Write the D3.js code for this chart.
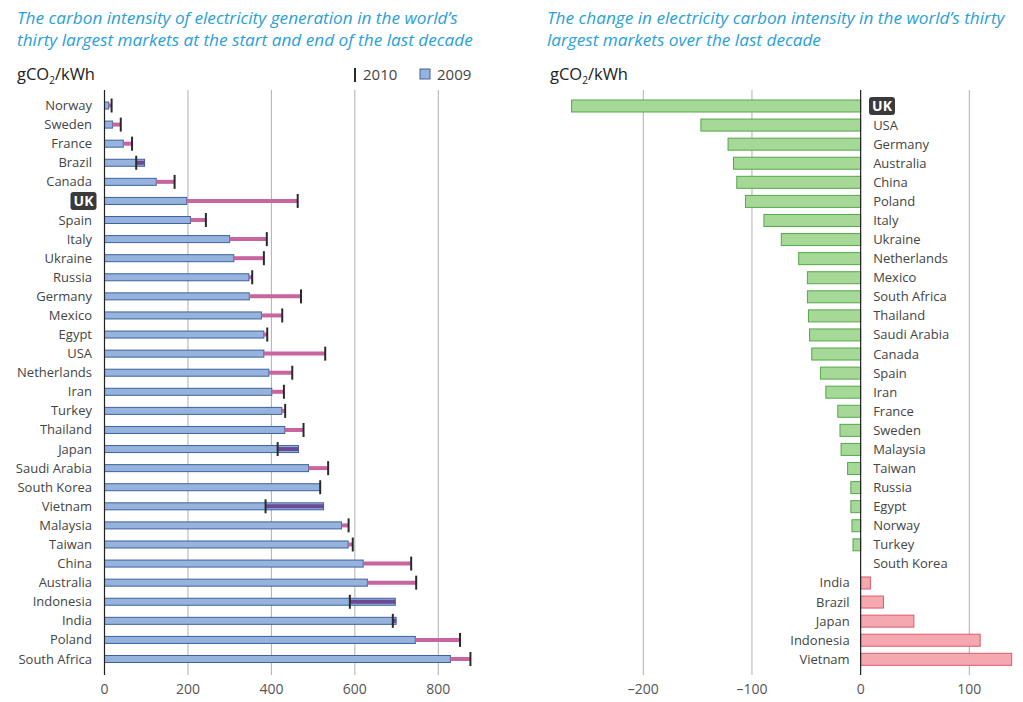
<!DOCTYPE html>
<html>
<head>
<meta charset="utf-8">
<title>Carbon intensity of electricity</title>
<script src="https://d3js.org/d3.v7.min.js"></script>
<style>
    body { margin: 0; background: #fff; font-family: "Open Sans", sans-serif; }
    .title { font-style: italic; fill: #2aa0d8; font-size: 17.2px; }
    .unit { fill: #222; font-size: 16.5px; }
    .label { fill: #444; font-size: 13px; }
    .legend-text { fill: #444; font-size: 15px; }
    .tick-label { fill: #555; font-size: 14px; }
    .grid { stroke: #b0b0b0; stroke-width: 1; }
</style>
</head>
<body>
<div id="chart"></div>
<script>
// left panel, sorted by 2009 value
const countries = ['Norway', 'Sweden', 'France', 'Brazil', 'Canada', 'UK', 'Spain', 'Italy', 'Ukraine', 'Russia',
    'Germany', 'Mexico', 'Egypt', 'USA', 'Netherlands', 'Iran', 'Turkey', 'Thailand', 'Japan', 'Saudi Arabia',
    'South Korea', 'Vietnam', 'Malaysia', 'Taiwan', 'China', 'Australia', 'Indonesia', 'India', 'Poland', 'South Africa'];
const values2009 = [10, 19, 45, 96, 124, 197, 206, 300, 310, 346, 347, 376, 382, 382, 394, 401, 425, 432, 465, 489,
    517, 525, 568, 584, 620, 630, 697, 699, 745, 829];
const values2010 = [17, 39, 66, 76, 168, 463, 243, 389, 382, 354, 471, 426, 390, 529, 450, 430, 433, 477, 415, 536,
    517, 386, 585, 595, 735, 747, 588, 691, 852, 877];
const leftTicks = [0, 200, 400, 600, 800];

// right panel, change over the decade
const changeCountries = ['UK', 'USA', 'Germany', 'Australia', 'China', 'Poland', 'Italy', 'Ukraine', 'Netherlands',
    'Mexico', 'South Africa', 'Thailand', 'Saudi Arabia', 'Canada', 'Spain', 'Iran', 'France', 'Sweden', 'Malaysia',
    'Taiwan', 'Russia', 'Egypt', 'Norway', 'Turkey', 'South Korea', 'India', 'Brazil', 'Japan', 'Indonesia', 'Vietnam'];
const changeValues = [-266, -147, -122, -117, -114, -106, -89, -73, -57, -49, -49, -48, -47, -45, -37, -32, -21, -19,
    -18, -12, -9, -9, -8, -7, 0, 9, 21, 49, 110, 139];
const rightTicks = [-200, -100, 0, 100];

const width = 1023, height = 702;
const svg = d3.select('#chart').append('svg')
    .attr('width', width)
    .attr('height', height);

// titles
function title(x, lines) {
    const t = svg.append('text').attr('class', 'title').attr('x', x).attr('y', 24);
    lines.forEach((l, i) => t.append('tspan').attr('x', x).attr('dy', i ? 22 : 0).text(l));
}
title(17, ["The carbon intensity of electricity generation in the world\u2019s",
    "thirty largest markets at the start and end of the last decade"]);
title(547, ["The change in electricity carbon intensity in the world\u2019s thirty",
    "largest markets over the last decade"]);

function unit(x) {
    const t = svg.append('text').attr('class', 'unit').attr('x', x).attr('y', 80);
    t.append('tspan').text('gCO');
    t.append('tspan').attr('font-size', 10).attr('dy', 4).text('2');
    t.append('tspan').attr('dy', -4).text('/kWh');
}
unit(17);
unit(550);

function ukBadge(g, x, y, anchor) {
    const w = 26, h = 18;
    const x0 = anchor === 'end' ? x - w : x;
    g.append('rect').attr('x', x0).attr('y', y - h / 2).attr('width', w).attr('height', h)
        .attr('rx', 3).attr('fill', '#3a3a3a');
    g.append('text').attr('x', x0 + w / 2).attr('y', y + 5).attr('text-anchor', 'middle')
        .attr('fill', '#fff').attr('font-size', 14).attr('font-weight', 'bold').text('UK');
}

// ---------- left panel ----------
const xL = d3.scaleLinear().domain([0, 800]).range([104.5, 438.3]);
const yL = d3.scalePoint().domain(countries).range([105.5, 659]);
const gL = svg.append('g');

gL.selectAll('.grid').data(leftTicks.slice(1)).join('line')
    .attr('class', 'grid')
    .attr('x1', d => xL(d)).attr('x2', d => xL(d))
    .attr('y1', 90).attr('y2', 675);

gL.selectAll('.tick-label').data(leftTicks).join('text')
    .attr('class', 'tick-label')
    .attr('x', d => xL(d)).attr('y', 694)
    .attr('text-anchor', 'middle')
    .text(d => d);

const rows = countries.map((c, i) => ({ c, a: values2009[i], b: values2010[i] }));

gL.selectAll('.bar').data(rows).join('rect')
    .attr('x', xL(0))
    .attr('y', d => yL(d.c) - 3.5)
    .attr('width', d => xL(d.a) - xL(0))
    .attr('height', 7)
    .attr('fill', '#95b3dc')
    .attr('stroke', '#3d62a0')
    .attr('stroke-width', 1);

gL.selectAll('.seg').data(rows.filter(d => d.a !== d.b)).join('line')
    .attr('x1', d => xL(d.a)).attr('x2', d => xL(d.b))
    .attr('y1', d => yL(d.c)).attr('y2', d => yL(d.c))
    .attr('stroke', d => d.b > d.a ? '#c8649f' : '#6a4a95')
    .attr('stroke-width', 4);

gL.selectAll('.mark').data(rows).join('line')
    .attr('x1', d => xL(d.b)).attr('x2', d => xL(d.b))
    .attr('y1', d => yL(d.c) - 7).attr('y2', d => yL(d.c) + 7)
    .attr('stroke', '#2a2a2a')
    .attr('stroke-width', 2);

gL.append('line').attr('x1', xL(0)).attr('x2', xL(0)).attr('y1', 90).attr('y2', 675)
    .attr('stroke', '#222').attr('stroke-width', 1.2);

gL.selectAll('.label').data(countries.filter(c => c !== 'UK')).join('text')
    .attr('class', 'label')
    .attr('x', 92).attr('y', d => yL(d) + 4.5)
    .attr('text-anchor', 'end')
    .text(d => d);
ukBadge(gL, 96.5, yL('UK'), 'end');

// legend
svg.append('line').attr('x1', 355).attr('x2', 355).attr('y1', 68).attr('y2', 82)
    .attr('stroke', '#2a2a2a').attr('stroke-width', 2);
svg.append('text').attr('class', 'legend-text').attr('x', 363).attr('y', 80).text('2010');
svg.append('rect').attr('x', 420).attr('y', 69).attr('width', 10).attr('height', 10)
    .attr('fill', '#95b3dc').attr('stroke', '#3d62a0');
svg.append('text').attr('class', 'legend-text').attr('x', 437).attr('y', 80).text('2009');

// ---------- right panel ----------
const xR = d3.scaleLinear().domain([-200, 100]).range([643.3, 969.3]);
const yR = d3.scalePoint().domain(changeCountries).range([106, 659.3]);
const gR = svg.append('g');

gR.selectAll('.grid').data(rightTicks.filter(d => d !== 0)).join('line')
    .attr('class', 'grid')
    .attr('x1', d => xR(d)).attr('x2', d => xR(d))
    .attr('y1', 90).attr('y2', 675);

gR.selectAll('.tick-label').data(rightTicks).join('text')
    .attr('class', 'tick-label')
    .attr('x', d => xR(d)).attr('y', 694)
    .attr('text-anchor', 'middle')
    .text(d => d < 0 ? '\u2013' + Math.abs(d) : d);

const changes = changeCountries.map((c, i) => ({ c, v: changeValues[i] }));

gR.selectAll('.bar').data(changes.filter(d => d.v !== 0)).join('rect')
    .attr('x', d => xR(Math.min(0, d.v)))
    .attr('y', d => yR(d.c) - 6)
    .attr('width', d => Math.abs(xR(d.v) - xR(0)))
    .attr('height', 12)
    .attr('fill', d => d.v < 0 ? '#a6d898' : '#f5a8b0')
    .attr('stroke', d => d.v < 0 ? '#54a848' : '#dd5a6a')
    .attr('stroke-width', 1);

gR.append('line').attr('x1', xR(0)).attr('x2', xR(0)).attr('y1', 90).attr('y2', 675)
    .attr('stroke', '#222').attr('stroke-width', 1.2);

gR.selectAll('.label').data(changes.filter(d => d.c !== 'UK')).join('text')
    .attr('class', 'label')
    .attr('x', d => d.v > 0 ? xR(0) - 11 : xR(0) + 12.5)
    .attr('y', d => yR(d.c) + 4.5)
    .attr('text-anchor', d => d.v > 0 ? 'end' : 'start')
    .text(d => d.c);
ukBadge(gR, 869, yR('UK'), 'start');
</script>
</body>
</html>
